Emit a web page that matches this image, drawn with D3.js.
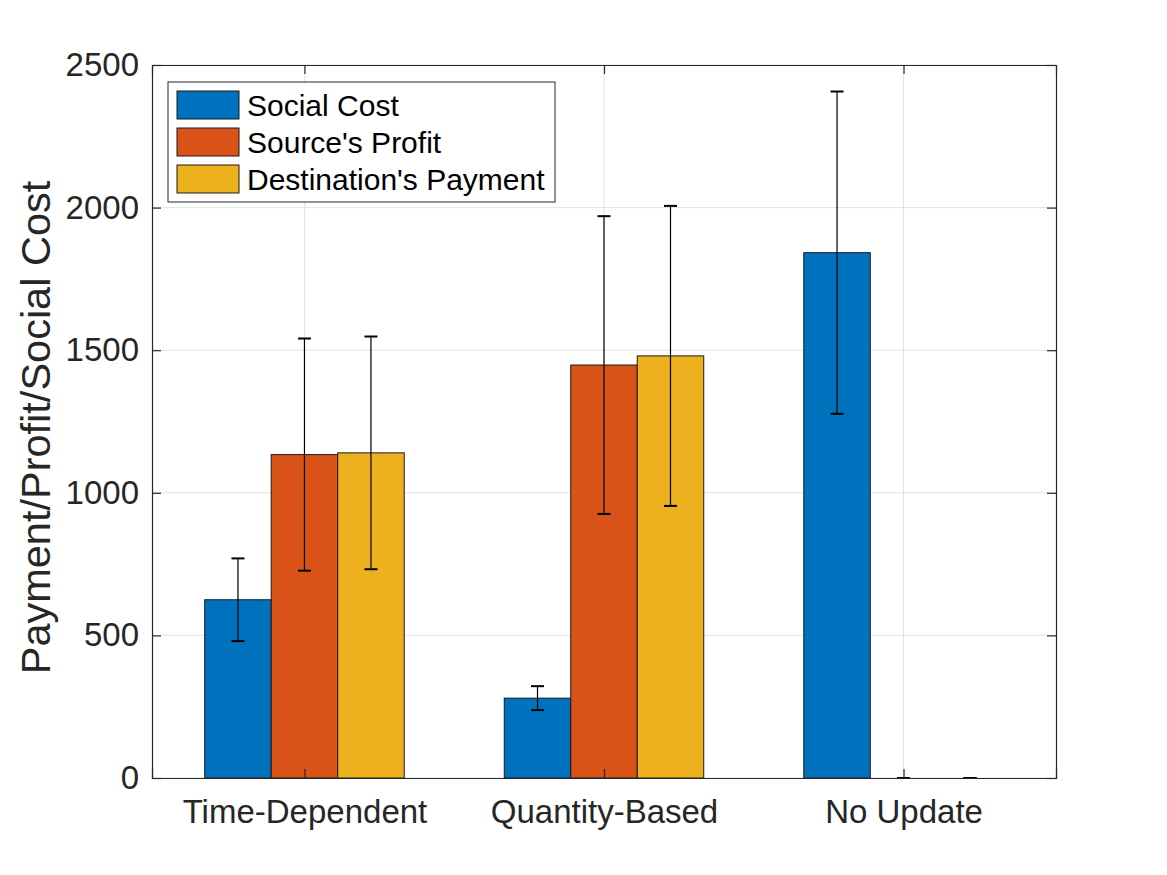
<!DOCTYPE html>
<html>
<head>
<meta charset="utf-8">
<script src="https://cdn.jsdelivr.net/npm/d3@7"></script>
<style>
  body { margin: 0; background: #fff; }
  text { font-family: "Liberation Sans", Arial, sans-serif; }
</style>
</head>
<body>
<script>
// data
const categories = ["Time-Dependent", "Quantity-Based", "No Update"];
const seriesNames = ["Social Cost", "Source's Profit", "Destination's Payment"];
const socialCost = [625, 280, 1842];
const sourceProfit = [1134, 1448, 0];
const destPayment = [1140, 1480, 0];
const socialCostErr = [145, 42, 565];
const sourceProfitErr = [407, 522, 0];
const destPaymentErr = [408, 526, 0];
const yTicks = [0, 500, 1000, 1500, 2000, 2500];
const colors = ["#0072BD", "#D95319", "#EDB120"];

let W = 1167, H = 875;
let margin = {top: 65, right: 111, bottom: 97, left: 152};
let width = W - margin.left - margin.right;
let height = H - margin.top - margin.bottom;

let svg = d3.select("body").append("svg")
  .attr("width", W)
  .attr("height", H)
  .append("g")
  .attr("transform", "translate(" + margin.left + "," + margin.top + ")");

let xScale = d3.scaleLinear().domain([0.491, 3.509]).range([0, width]);
let yScale = d3.scaleLinear().domain([0, 2500]).range([height, 0]);

let values = [socialCost, sourceProfit, destPayment];
let errs = [socialCostErr, sourceProfitErr, destPaymentErr];
let barW = 0.222;
let offsets = [-barW, 0, barW];

// grid
svg.selectAll(".ygrid").data(yTicks).enter().append("line")
  .attr("x1", 0).attr("x2", width)
  .attr("y1", d => yScale(d)).attr("y2", d => yScale(d))
  .attr("stroke", "#e3e3e3").attr("stroke-width", 1);
svg.selectAll(".xgrid").data([1, 2, 3]).enter().append("line")
  .attr("x1", d => xScale(d)).attr("x2", d => xScale(d))
  .attr("y1", 0).attr("y2", height)
  .attr("stroke", "#e3e3e3").attr("stroke-width", 1);

// bars
let data = [];
for (let s = 0; s < 3; s++) {
  for (let i = 0; i < 3; i++) {
    data.push({s: s, x: i + 1 + offsets[s], v: values[s][i], e: errs[s][i]});
  }
}

svg.selectAll("rect.bar").data(data.filter(d => d.v > 0)).enter().append("rect")
  .attr("class", "bar")
  .attr("x", d => xScale(d.x - barW / 2))
  .attr("width", d => xScale(d.x + barW / 2) - xScale(d.x - barW / 2))
  .attr("y", d => yScale(d.v))
  .attr("height", d => yScale(0) - yScale(d.v))
  .attr("fill", d => colors[d.s])
  .attr("stroke", "#1a1a1a")
  .attr("stroke-width", 1);

// error bars
let cap = 6.5;
let eb = svg.selectAll("g.err").data(data).enter().append("g")
  .attr("stroke", "#000").attr("stroke-width", 1.2);
eb.append("line")
  .attr("x1", d => xScale(d.x)).attr("x2", d => xScale(d.x))
  .attr("y1", d => yScale(d.v + d.e)).attr("y2", d => yScale(d.v - d.e));
eb.append("line")
  .attr("x1", d => xScale(d.x) - cap).attr("x2", d => xScale(d.x) + cap)
  .attr("y1", d => yScale(d.v + d.e)).attr("y2", d => yScale(d.v + d.e))
  .attr("stroke-width", 2);
eb.append("line")
  .attr("x1", d => xScale(d.x) - cap).attr("x2", d => xScale(d.x) + cap)
  .attr("y1", d => yScale(d.v - d.e)).attr("y2", d => yScale(d.v - d.e))
  .attr("stroke-width", 2);

// axes
let axisColor = "#262626";
let yAxis = d3.axisLeft(yScale).tickValues(yTicks).tickSize(-9).tickPadding(13)
  .tickFormat(d3.format("d"));
let yAxisR = d3.axisRight(yScale).tickValues(yTicks).tickSize(-9).tickFormat("");
let xAxis = d3.axisBottom(xScale).tickValues([1, 2, 3]).tickSize(-9).tickPadding(22)
  .tickFormat(d => categories[d - 1]);
let xAxisT = d3.axisTop(xScale).tickValues([1, 2, 3]).tickSize(-9).tickFormat("");

function styleAxis(g) {
  g.selectAll("path").attr("stroke", axisColor).attr("stroke-width", 1.2);
  g.selectAll("line").attr("stroke", axisColor).attr("stroke-width", 1.2);
  g.selectAll("text").attr("fill", axisColor).style("font-size", "33px")
    .style("font-family", "'Liberation Sans', Arial, sans-serif");
}

svg.append("g").call(yAxis).call(styleAxis);
svg.append("g").attr("transform", "translate(" + width + ",0)").call(yAxisR).call(styleAxis);
svg.append("g").attr("transform", "translate(0," + height + ")").call(xAxis).call(styleAxis);
svg.append("g").call(xAxisT).call(styleAxis);

// y label
svg.append("text")
  .attr("transform", "translate(" + (-102) + "," + (height / 2 + 6) + ") rotate(-90)")
  .attr("text-anchor", "middle")
  .style("font-size", "41.5px")
  .attr("fill", axisColor)
  .text("Payment/Profit/Social Cost");

// legend
let lg = svg.append("g").attr("transform", "translate(16,17)");
lg.append("rect")
  .attr("x", 0).attr("y", 0).attr("width", 387).attr("height", 120)
  .attr("fill", "#fff").attr("stroke", "#262626").attr("stroke-width", 1);
seriesNames.forEach(function(name, i) {
  lg.append("rect")
    .attr("x", 9).attr("y", 9 + i * 37).attr("width", 62).attr("height", 28)
    .attr("fill", colors[i]).attr("stroke", "#1a1a1a").attr("stroke-width", 1);
  lg.append("text")
    .attr("x", 79).attr("y", 23 + i * 37)
    .attr("dy", "0.36em")
    .style("font-size", "30px")
    .attr("fill", "#000")
    .text(name);
});
</script>
</body>
</html>
